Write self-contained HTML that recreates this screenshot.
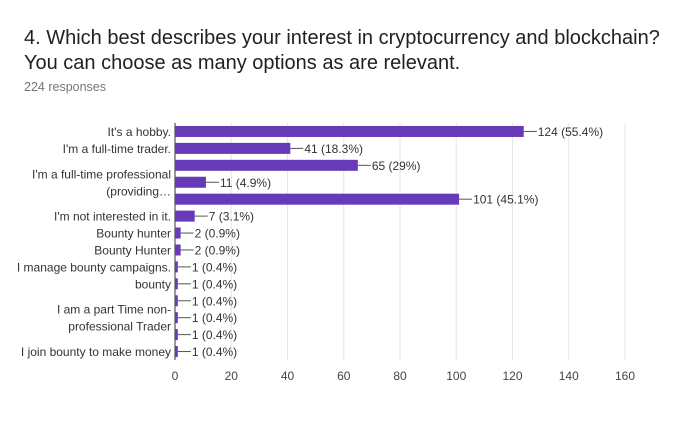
<!DOCTYPE html>
<html><head><meta charset="utf-8"><style>
body{margin:0;width:696px;height:428px;background:#fff;font-family:"Liberation Sans",sans-serif;overflow:hidden}
.t{position:absolute;left:24px;top:26px;font-size:20px;line-height:25px;color:#202124}
.r{position:absolute;left:24px;top:80px;font-size:12.5px;color:#777}
</style></head><body>
<div class="t">4. Which best describes your interest in cryptocurrency and blockchain?<br>You can choose as many options as are relevant.</div>
<div class="r">224 responses</div>
<svg id="c" width="696" height="428" style="position:absolute;left:0;top:0"></svg>
<script>
const values=[124,41,65,11,101,7,2,2,1,1,1,1,1,1];
const valueLabels=["124 (55.4%)","41 (18.3%)","65 (29%)","11 (4.9%)","101 (45.1%)","7 (3.1%)","2 (0.9%)","2 (0.9%)","1 (0.4%)","1 (0.4%)","1 (0.4%)","1 (0.4%)","1 (0.4%)","1 (0.4%)"];
const ticks=[0,20,40,60,80,100,120,140,160];
const labels=[[0,"It's a hobby."],[1,"I'm a full-time trader."],[5,"I'm not interested in it."],[6,"Bounty hunter"],[7,"Bounty Hunter"],[8,"I manage bounty campaigns."],[9,"bounty"],[13,"I join bounty to make money"]];
const multi=[[3,["I'm a full-time professional","(providing…"]],[11,["I am a part Time non-","professional Trader"]]];
const svg=document.getElementById('c');const NS="http://www.w3.org/2000/svg";
const x0=175,x1=625,top0=123,bot=360;
const n=values.length;const pitch=(bot-top0)/n;
const X=v=>x0+(v-ticks[0])/(ticks[ticks.length-1]-ticks[0])*(x1-x0);
const Y=i=>top0+pitch*(i+0.5);
function el(t,a,txt){const e=document.createElementNS(NS,t);for(const k in a)e.setAttribute(k,a[k]);if(txt!=null)e.textContent=txt;svg.appendChild(e);return e;}
ticks.forEach(t=>{const g=el('line',{x1:X(t),x2:X(t),y1:top0,y2:bot,stroke:t===0?'#333':'#e6e6e6','stroke-width':1});

const l=el('text',{x:X(t),y:bot+20,'text-anchor':'middle','font-size':12,fill:'#444'},t);
});
values.forEach((v,i)=>{const y=Y(i);
const b=el('rect',{x:x0,y:y-5.5,width:X(v)-x0,height:11,fill:'#673ab7'});

const ln=el('line',{x1:X(v),x2:X(v)+13,y1:y,y2:y,stroke:'#555','stroke-width':1});

const t=el('text',{x:X(v)+14,y:y+4.5,'font-size':12,fill:'#333'},valueLabels[i]);
});
labels.forEach(([i,s])=>{const t=el('text',{x:x0-4,y:Y(i)+4.5,'text-anchor':'end','font-size':12,fill:'#333'},s);
});
multi.forEach(([i,ls])=>{ls.forEach((s,k)=>{const t=el('text',{x:x0-4,y:Y(i)-4+k*17,'text-anchor':'end','font-size':12,fill:'#333'},s);
});});
</script>
</body></html>
